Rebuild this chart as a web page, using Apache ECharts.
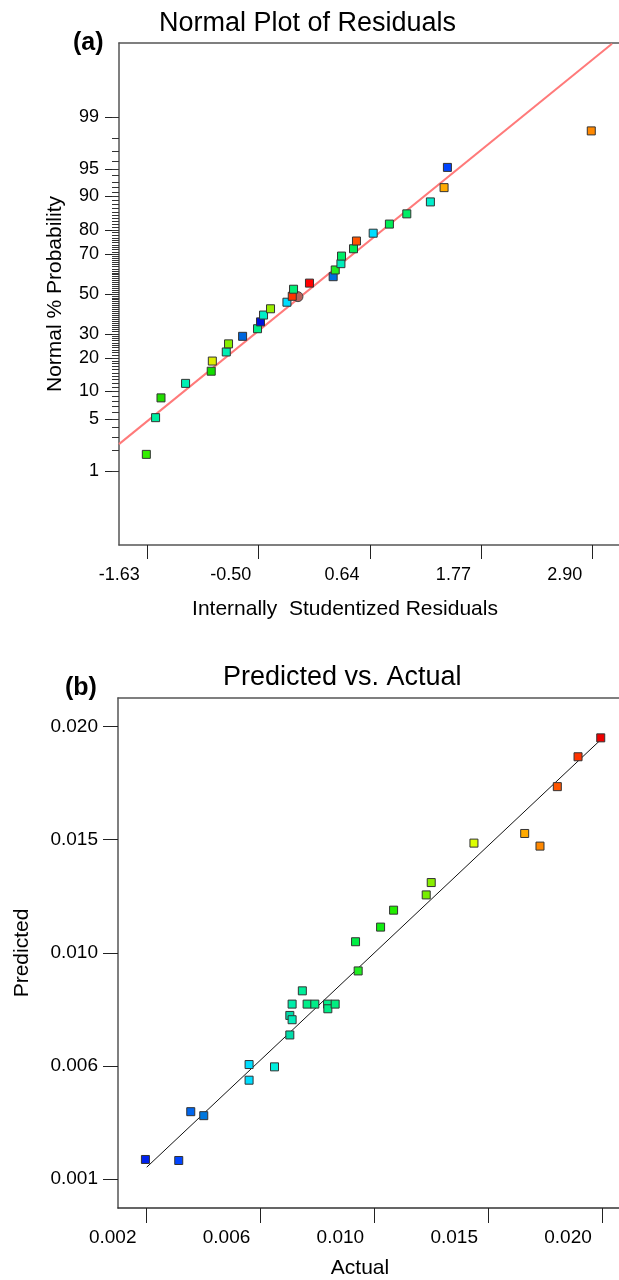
<!DOCTYPE html>
<html style="height: 100%">
<head>
<meta charset="utf-8">
</head>
<body style="height: 100%; margin: 0; background: #fff">
<div id="container" style="width: 619px; height: 1280px"></div>
<script src="https://cdn.jsdelivr.net/npm/echarts@6/dist/echarts.min.js"></script>
<script>
// (a) normal plot of residuals
var resX = [-1.640, -1.546, -1.491, -1.241, -0.980, -0.969, -0.827, -0.804, -0.661, -0.509,
            -0.479, -0.448, -0.377, -0.210, -0.156, -0.143, 0.019, 0.260, 0.281, 0.339,
            0.345, 0.467, 0.497, 0.667, 0.832, 1.009, 1.249, 1.388, 1.422, 2.885];
var resP = [1.75, 5.2, 8.6, 12.0, 15.5, 18.9, 22.3, 25.6, 28.9, 32.4,
            35.7, 39.1, 42.3, 45.7, 48.8, 52.5, 55.7, 59.0, 62.4, 65.5,
            69.1, 72.4, 75.7, 78.8, 82.1, 85.4, 88.7, 91.9, 95.2, 98.4];
var resColors = ['#33ee00', '#00eea0', '#22dd00', '#00f0b4', '#11dd00', '#ddee00', '#00eeb4', '#88ee00', '#0066dd', '#00f088',
                 '#0011dd', '#00eec8', '#99ee00', '#00ddff', '#ff3300', '#00ee77', '#ff0000', '#0070e0', '#22ee22', '#00eebb',
                 '#00ee66', '#00ee55', '#ff5500', '#00ddff', '#00ee55', '#00ee66', '#00eecc', '#ffaa00', '#0044ff', '#ff8800'];
var circleX = [-0.098];
var circleP = [48.6];
var normalLine = [[-1.918, 2.42], [3.096, 99.95]];
var resTicks = [-1.63, -0.4975, 0.635, 1.7675, 2.90];
var resTickLabels = ['-1.63', '-0.50', '0.64', '1.77', '2.90'];
var probLabels = [1, 5, 10, 20, 30, 50, 70, 80, 90, 95, 99];

// (b) predicted vs actual
var actual = [0.001449, 0.002766, 0.003241, 0.003755, 0.005547, 0.005547, 0.006552, 0.007157, 0.007157, 0.007248,
              0.007248, 0.007652, 0.007841, 0.008146, 0.008649, 0.008660, 0.008949, 0.009756, 0.009859, 0.010745,
              0.011259, 0.012549, 0.012747, 0.014436, 0.016442, 0.017047, 0.017732, 0.018551, 0.019448];
var predicted = [0.001824, 0.001782, 0.003831, 0.003664, 0.005810, 0.005153, 0.005713, 0.007052, 0.007872, 0.007692,
                 0.008348, 0.008905, 0.008348, 0.008348, 0.008348, 0.008152, 0.008348, 0.010966, 0.009741, 0.011581,
                 0.012292, 0.012932, 0.013451, 0.015107, 0.015512, 0.014982, 0.017478, 0.018733, 0.019527];
var actColors = ['#0022ee', '#0044ff', '#0066ee', '#0077dd', '#00ddff', '#00ddff', '#00eedd', '#00ddaa', '#00ddaa', '#00eebb',
                 '#00eeaa', '#00ee99', '#00ee88', '#00ee88', '#00ee88', '#00ee88', '#00ee80', '#00ee44', '#22ee22', '#11ee11',
                 '#22ee00', '#77ee00', '#88ee00', '#ddff00', '#ffaa00', '#ff8800', '#ff5500', '#ff3300', '#ee0000'];
var diagLine = [[0.0015, 0.0015], [0.0195, 0.0195]];
var actTicks = [0.0015, 0.006, 0.0105, 0.015, 0.0195];
var actTickLabels = ['0.002', '0.006', '0.010', '0.015', '0.020'];
var predTicks = [0.001, 0.00575, 0.0105, 0.01525, 0.020];
var predTickLabels = ['0.001', '0.006', '0.010', '0.015', '0.020'];

// inverse normal cdf (Acklam)
function probit(p) {
    var a = [-3.969683028665376e+01, 2.209460984245205e+02, -2.759285104469687e+02, 1.383577518672690e+02, -3.066479806614716e+01, 2.506628277459239e+00];
    var b = [-5.447609879822406e+01, 1.615858368580409e+02, -1.556989798598866e+02, 6.680131188771972e+01, -1.328068155288572e+01];
    var c = [-7.784894002430293e-03, -3.223964580411365e-01, -2.400758277161838e+00, -2.549671348054094e+00, 4.374664141464968e+00, 2.938163982698783e+00];
    var d = [7.784695709041462e-03, 3.224671290700398e-01, 2.445134137142996e+00, 3.754408661907416e+00];
    var q, r;
    if (p < 0.02425) {
        q = Math.sqrt(-2 * Math.log(p));
        return (((((c[0] * q + c[1]) * q + c[2]) * q + c[3]) * q + c[4]) * q + c[5]) / ((((d[0] * q + d[1]) * q + d[2]) * q + d[3]) * q + 1);
    }
    if (p > 1 - 0.02425) {
        q = Math.sqrt(-2 * Math.log(1 - p));
        return -(((((c[0] * q + c[1]) * q + c[2]) * q + c[3]) * q + c[4]) * q + c[5]) / ((((d[0] * q + d[1]) * q + d[2]) * q + d[3]) * q + 1);
    }
    q = p - 0.5;
    r = q * q;
    return (((((a[0] * r + a[1]) * r + a[2]) * r + a[3]) * r + a[4]) * r + a[5]) * q / (((((b[0] * r + b[1]) * r + b[2]) * r + b[3]) * r + b[4]) * r + 1);
}
function z(pct) { return probit(pct / 100); }

function labelFor(values, labels) {
    return function (v) {
        var best = 0;
        for (var i = 1; i < values.length; i++) {
            if (Math.abs(values[i] - v) < Math.abs(values[best] - v)) best = i;
        }
        return labels[best];
    };
}

var probMajor = probLabels.map(z);
var probMinor = [];
for (var k = 1; k <= 99; k++) probMinor.push(z(k));

var FONT = 'Liberation Sans';
var AXIS = '#555';

var sq = {symbol: 'rect', symbolSize: 8};
var resData = resX.map(function (x, i) {
    return {value: [x, z(resP[i])], itemStyle: {color: resColors[i]}};
});
var actData = actual.map(function (x, i) {
    return {value: [x, predicted[i]], itemStyle: {color: actColors[i]}};
});

var myChart = echarts.init(document.getElementById('container'));

var option = {
    animation: false,
    textStyle: {fontFamily: FONT, color: '#000'},
    title: [
        {text: 'Normal Plot of Residuals', left: 159, top: 10, padding: 0,
         textStyle: {fontFamily: FONT, fontSize: 27, fontWeight: 'normal', color: '#000'}},
        {text: '(a)', left: 73, top: 31, padding: 0,
         textStyle: {fontFamily: FONT, fontSize: 25, fontWeight: 'bold', color: '#000'}},
        {text: 'Predicted vs. Actual', left: 223, top: 664, padding: 0,
         textStyle: {fontFamily: FONT, fontSize: 27, fontWeight: 'normal', color: '#000'}},
        {text: '(b)', left: 65, top: 676, padding: 0,
         textStyle: {fontFamily: FONT, fontSize: 25, fontWeight: 'bold', color: '#000'}}
    ],
    grid: [
        {left: 119, top: 43, width: 500, height: 502},
        {left: 118, top: 698, width: 501, height: 512}
    ],
    xAxis: [
        {
            gridIndex: 0, type: 'value', min: -1.918, max: 3.167,
            name: 'Internally  Studentized Residuals', nameLocation: 'middle', nameGap: 54,
            nameTextStyle: {fontFamily: FONT, fontSize: 21, color: '#000', padding: [0, 48, 0, 0]},
            axisLine: {onZero: false, lineStyle: {color: AXIS, width: 1.5}},
            axisTick: {customValues: resTicks, length: 14, inside: false, lineStyle: {color: '#222'}},
            axisLabel: {customValues: resTicks, formatter: labelFor(resTicks, resTickLabels),
                        margin: 21, fontFamily: FONT, fontSize: 18, color: '#000', padding: [0, 56, 0, 0]},
            splitLine: {show: false}
        },
        {
            gridIndex: 0, type: 'value', position: 'top', min: -1.918, max: 3.167,
            axisLine: {onZero: false, lineStyle: {color: AXIS, width: 1.5}},
            axisTick: {show: false}, axisLabel: {show: false}, splitLine: {show: false}
        },
        {
            gridIndex: 1, type: 'value', min: 0.000365, max: 0.02017,
            name: 'Actual', nameLocation: 'middle', nameGap: 50,
            nameTextStyle: {fontFamily: FONT, fontSize: 21, color: '#000', padding: [0, 17, 0, 0]},
            axisLine: {onZero: false, lineStyle: {color: '#333', width: 1.5}},
            axisTick: {customValues: actTicks, length: 15, lineStyle: {color: '#222'}},
            axisLabel: {customValues: actTicks, formatter: labelFor(actTicks, actTickLabels),
                        margin: 20, fontFamily: FONT, fontSize: 19, color: '#000', padding: [0, 68, 0, 0]},
            splitLine: {show: false}
        },
        {
            gridIndex: 1, type: 'value', position: 'top', min: 0.000365, max: 0.02017,
            axisLine: {onZero: false, lineStyle: {color: AXIS, width: 1.5}},
            axisTick: {show: false}, axisLabel: {show: false}, splitLine: {show: false}
        }
    ],
    yAxis: [
        {
            gridIndex: 0, type: 'value', position: 'left', min: -3.3, max: 3.3,
            name: 'Normal % Probability', nameLocation: 'middle', nameGap: 53,
            nameTextStyle: {fontFamily: FONT, fontSize: 21, color: '#000'},
            axisLine: {onZero: false, lineStyle: {color: AXIS, width: 1.5}},
            axisTick: {customValues: probMajor, length: 14, lineStyle: {color: '#222'}},
            axisLabel: {customValues: probMajor, formatter: labelFor(probMajor, probLabels.map(String)),
                        margin: 20, fontFamily: FONT, fontSize: 18, color: '#000'},
            splitLine: {show: false}
        },
        {
            gridIndex: 0, type: 'value', position: 'left', offset: 0, min: -3.3, max: 3.3,
            axisLine: {show: false, onZero: false},
            axisTick: {customValues: probMinor, length: 7, lineStyle: {color: '#333'}},
            axisLabel: {show: false},
            splitLine: {show: false}
        },
        {
            gridIndex: 1, type: 'value', position: 'left', min: -0.000213, max: 0.0212,
            name: 'Predicted', nameLocation: 'middle', nameGap: 85,
            nameTextStyle: {fontFamily: FONT, fontSize: 21, color: '#000'},
            axisLine: {onZero: false, lineStyle: {color: AXIS, width: 1.5}},
            axisTick: {customValues: predTicks, length: 15, lineStyle: {color: '#222'}},
            axisLabel: {customValues: predTicks, formatter: labelFor(predTicks, predTickLabels),
                        margin: 20, fontFamily: FONT, fontSize: 19, color: '#000'},
            splitLine: {show: false}
        }
    ],
    series: [
        {
            type: 'line', xAxisIndex: 0, yAxisIndex: 0, clip: true, symbol: 'none',
            data: normalLine.map(function (p) { return [p[0], z(p[1])]; }),
            lineStyle: {color: '#ff7a7a', width: 2}, z: 1
        },
        {
            type: 'scatter', xAxisIndex: 0, yAxisIndex: 0, symbol: 'circle', symbolSize: 10,
            data: circleX.map(function (x, i) { return [x, z(circleP[i])]; }),
            itemStyle: {color: '#b8605a', borderColor: '#444', borderWidth: 1, opacity: 1}, z: 2
        },
        {
            type: 'scatter', xAxisIndex: 0, yAxisIndex: 0, symbol: sq.symbol, symbolSize: sq.symbolSize,
            data: resData,
            itemStyle: {borderColor: '#333', borderWidth: 1, opacity: 1}, z: 3
        },
        {
            type: 'line', xAxisIndex: 2, yAxisIndex: 2, symbol: 'none',
            data: diagLine,
            lineStyle: {color: '#111', width: 1}, z: 1
        },
        {
            type: 'scatter', xAxisIndex: 2, yAxisIndex: 2, symbol: sq.symbol, symbolSize: sq.symbolSize,
            data: actData,
            itemStyle: {borderColor: '#333', borderWidth: 1, opacity: 1}, z: 3
        }
    ]
};

myChart.setOption(option);
</script>
</body>
</html>
